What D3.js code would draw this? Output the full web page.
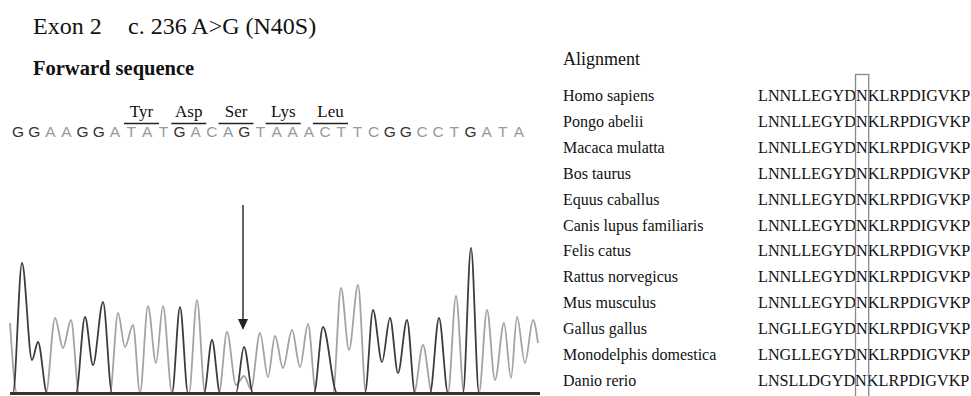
<!DOCTYPE html>
<html>
<head>
<meta charset="utf-8">
<script src="https://cdn.jsdelivr.net/npm/d3@7"></script>
<style>
  body { margin: 0; background: #fff; }
  svg { display: block; }
  .serif { font-family: "Liberation Serif", "Times New Roman", serif; fill: #111; }
  .sans { font-family: "Liberation Sans", Arial, sans-serif; }
</style>
</head>
<body>
<div id="chart"></div>
<script>
// base calls of the forward read
var bases = "GGAAGGATATGACAGTAAACTTCGGCCTGATA".split("");
// amino acids over the read
var aminoAcids = ["Tyr", "Asp", "Ser", "Lys", "Leu"];

// trace points [scan, intensity]
var darkTrace = [[0,0],[3,0],[12,1300],[22,330],[28,510],[37,0],
  [66,0],[75,760],[83,280],[93,910],[102,0],
  [162,0],[170,860],[178,0],
  [194,0],[202,530],[210,0],
  [226,0],[234,460],[243,0],
  [304,0],[313,660],[327,0],
  [355,0],[363,830],[372,310],[380,750],[388,200],[397,730],[405,0],
  [420,0],[429,750],[438,0],
  [453,0],[461,1450],[469,0],
  [530,0]];
var lightTrace = [[0,700],[7,0],
  [36,0],[45,750],[53,450],[61,730],[69,0],
  [100,0],[108,800],[115,460],[123,680],[130,0],[138,870],[146,300],[153,870],[162,0],
  [179,0],[187,930],[195,0],
  [209,0],[217,610],[226,80],[234,170],[241,40],[250,600],[258,160],[265,570],[273,250],[282,630],[290,260],[298,690],[306,0],
  [323,0],[331,1050],[339,430],[348,1080],[356,0],
  [404,0],[413,480],[422,0],
  [438,0],[446,970],[454,0],
  [469,0],[477,830],[485,130],[494,700],[501,150],[507,760],[515,300],[523,730],[528,500]];
var mutationScan = 234;

var species = ["Homo sapiens", "Pongo abelii", "Macaca mulatta", "Bos taurus", "Equus caballus",
  "Canis lupus familiaris", "Felis catus", "Rattus norvegicus", "Mus musculus", "Gallus gallus",
  "Monodelphis domestica", "Danio rerio"];
var proteinSeqs = ["LNNLLEGYDNKLRPDIGVKP", "LNNLLEGYDNKLRPDIGVKP", "LNNLLEGYDNKLRPDIGVKP",
  "LNNLLEGYDNKLRPDIGVKP", "LNNLLEGYDNKLRPDIGVKP", "LNNLLEGYDNKLRPDIGVKP", "LNNLLEGYDNKLRPDIGVKP",
  "LNNLLEGYDNKLRPDIGVKP", "LNNLLEGYDNKLRPDIGVKP", "LNGLLEGYDNKLRPDIGVKP", "LNGLLEGYDNKLRPDIGVKP",
  "LNSLLDGYDNKLRPDIGVKP"];
var markedResidue = 9; // N40

var w = 971, h = 396;
var svg = d3.select("#chart").append("svg").attr("width", w).attr("height", h);

// titles
var title = svg.append("text").attr("class", "serif").attr("x", 33).attr("y", 34).style("font-size", "24px");
title.append("tspan").text("Exon 2");
title.append("tspan").attr("x", 128).text("c. 236 A>G (N40S)");
svg.append("text").attr("class", "serif").attr("x", 33).attr("y", 75)
  .style("font-size", "20.5px").style("font-weight", "bold").text("Forward sequence");

// base letters
var baseScale = d3.scalePoint().domain(d3.range(bases.length)).range([18, 519]);
svg.selectAll("text.base").data(bases).enter().append("text")
  .attr("class", "base sans")
  .attr("x", (d, i) => baseScale(i))
  .attr("y", 137)
  .attr("text-anchor", "middle")
  .style("font-size", "15.5px")
  .style("fill", d => d == "G" ? "#333" : "#999")
  .text(d => d);

// amino acid labels
var aaScale = d3.scalePoint().domain(aminoAcids).range([141.5, 330.5]);
var aa = svg.selectAll("g.aa").data(aminoAcids).enter().append("g").attr("class", "aa")
  .attr("transform", d => "translate(" + aaScale(d) + ",0)");
aa.append("text").attr("class", "serif").attr("y", 117).attr("text-anchor", "middle")
  .style("font-size", "17px").text(d => d);
aa.append("line").attr("x1", -17.5).attr("x2", 17.5).attr("y1", 123.5).attr("y2", 123.5)
  .attr("stroke", "#222").attr("stroke-width", 1.3);

// chromatogram
var xscale = d3.scaleLinear().domain([0, 530]).range([10, 540]);
var yscale = d3.scaleLinear().domain([0, 1500]).range([393, 243]);
var line = d3.line().x(d => xscale(d[0])).y(d => yscale(d[1])).curve(d3.curveMonotoneX);

svg.append("path").attr("d", line(lightTrace)).attr("fill", "none")
  .attr("stroke", "#a3a3a3").attr("stroke-width", 1.8);
svg.append("path").attr("d", line(darkTrace)).attr("fill", "none")
  .attr("stroke", "#3c3c3c").attr("stroke-width", 1.8);

svg.append("line").attr("x1", xscale(0)).attr("x2", xscale(530))
  .attr("y1", yscale(0) + 0.5).attr("y2", yscale(0) + 0.5)
  .attr("stroke", "#333").attr("stroke-width", 3);

// arrow at the mutation
var ax = xscale(mutationScan) - 1;
svg.append("line").attr("x1", ax).attr("x2", ax).attr("y1", 205).attr("y2", 322)
  .attr("stroke", "#333").attr("stroke-width", 1.5);
svg.append("path").attr("d", "M" + (ax - 5) + ",319L" + (ax + 5) + ",319L" + ax + ",330Z").attr("fill", "#222");

// alignment
svg.append("text").attr("class", "serif").attr("x", 563).attr("y", 65)
  .style("font-size", "18px").text("Alignment");

var rowScale = d3.scalePoint().domain(species).range([101, 386]);
svg.selectAll("text.sp").data(species).enter().append("text")
  .attr("class", "sp serif").attr("x", 563).attr("y", d => rowScale(d))
  .style("font-size", "16px").text(d => d);
var seqText = svg.selectAll("text.seq").data(proteinSeqs).enter().append("text")
  .attr("class", "seq serif").attr("x", 758).attr("y", (d, i) => rowScale(species[i]))
  .style("font-size", "16.2px").text(d => d);

var first = seqText.node();
var off = first.getSubStringLength(0, markedResidue);
var nw = first.getSubStringLength(markedResidue, 1);
svg.append("rect").attr("x", 758 + off - 0.5).attr("y", 74.5)
  .attr("width", nw + 1.5).attr("height", 340)
  .attr("fill", "none").attr("stroke", "#888").attr("stroke-width", 1.3);
</script>
</body>
</html>
